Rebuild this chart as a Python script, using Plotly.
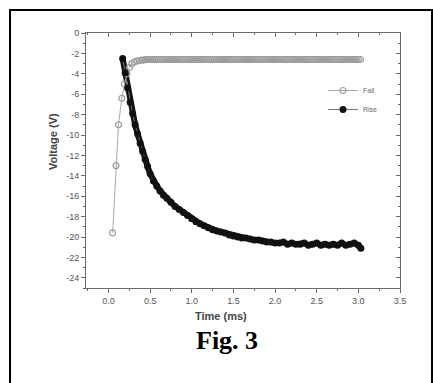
import plotly.graph_objects as go

# ---- data ----
fall_t = [0.05, 0.09, 0.12, 0.16, 0.19, 0.22, 0.25, 0.28, 0.31, 0.34, 0.37,
          0.400, 0.425, 0.450, 0.475, 0.500, 0.525, 0.550, 0.575, 0.600, 0.625, 0.650, 0.675, 0.700, 0.725,
          0.750, 0.775, 0.800, 0.825, 0.850, 0.875, 0.900, 0.925, 0.950, 0.975, 1.000, 1.025, 1.050, 1.075,
          1.100, 1.125, 1.150, 1.175, 1.200, 1.225, 1.250, 1.275, 1.300, 1.325, 1.350, 1.375, 1.400, 1.425,
          1.450, 1.475, 1.500, 1.525, 1.550, 1.575, 1.600, 1.625, 1.650, 1.675, 1.700, 1.725, 1.750, 1.775,
          1.800, 1.825, 1.850, 1.875, 1.900, 1.925, 1.950, 1.975, 2.000, 2.025, 2.050, 2.075, 2.100, 2.125,
          2.150, 2.175, 2.200, 2.225, 2.250, 2.275, 2.300, 2.325, 2.350, 2.375, 2.400, 2.425, 2.450, 2.475,
          2.500, 2.525, 2.550, 2.575, 2.600, 2.625, 2.650, 2.675, 2.700, 2.725, 2.750, 2.775, 2.800, 2.825,
          2.850, 2.875, 2.900, 2.925, 2.950, 2.975, 3.000, 3.025]
fall_v = [-19.6, -13.0, -9.0, -6.4, -5.0, -4.0, -3.4, -3.0, -2.85, -2.75, -2.7,
          -2.65, -2.65, -2.6, -2.6, -2.6, -2.6, -2.6, -2.6, -2.6, -2.6, -2.6, -2.6, -2.6, -2.6,
          -2.6, -2.6, -2.6, -2.6, -2.6, -2.6, -2.6, -2.6, -2.6, -2.6, -2.6, -2.6, -2.6, -2.6,
          -2.6, -2.6, -2.6, -2.6, -2.6, -2.6, -2.6, -2.6, -2.6, -2.6, -2.6, -2.6, -2.6, -2.6,
          -2.6, -2.6, -2.6, -2.6, -2.6, -2.6, -2.6, -2.6, -2.6, -2.6, -2.6, -2.6, -2.6, -2.6,
          -2.6, -2.6, -2.6, -2.6, -2.6, -2.6, -2.6, -2.6, -2.6, -2.6, -2.6, -2.6, -2.6, -2.6,
          -2.6, -2.6, -2.6, -2.6, -2.6, -2.6, -2.6, -2.6, -2.6, -2.6, -2.6, -2.6, -2.6, -2.6,
          -2.6, -2.6, -2.6, -2.6, -2.6, -2.6, -2.6, -2.6, -2.6, -2.6, -2.6, -2.6, -2.6, -2.6,
          -2.6, -2.6, -2.6, -2.6, -2.6, -2.6, -2.6, -2.6]

rise_t = [0.17, 0.20, 0.23, 0.26, 0.29, 0.32, 0.35, 0.38, 0.41, 0.44, 0.47, 0.50, 0.54, 0.58, 0.62,
          0.66, 0.70, 0.75, 0.80, 0.85, 0.90, 0.95, 1.00, 1.05, 1.10, 1.15, 1.20, 1.25, 1.30, 1.35,
          1.40, 1.45, 1.50, 1.55, 1.60, 1.65, 1.70, 1.75, 1.80, 1.85, 1.90, 1.95, 2.00, 2.05, 2.10,
          2.15, 2.20, 2.25, 2.30, 2.35, 2.40, 2.45, 2.50, 2.55, 2.60, 2.65, 2.70, 2.75, 2.80, 2.85,
          2.90, 2.95, 3.00, 3.03]
rise_v = [-2.5, -3.9, -5.4, -6.8, -7.9, -9.0, -9.9, -10.8, -11.6, -12.4, -13.1, -13.8, -14.5, -15.0, -15.5,
          -15.9, -16.2, -16.6, -17.0, -17.3, -17.6, -17.9, -18.2, -18.5, -18.7, -18.9, -19.1, -19.3, -19.4, -19.5,
          -19.6, -19.8, -19.9, -20.0, -20.1, -20.1, -20.2, -20.3, -20.3, -20.4, -20.5, -20.5, -20.6, -20.6, -20.5,
          -20.7, -20.6, -20.7, -20.7, -20.6, -20.8, -20.7, -20.6, -20.8, -20.7, -20.8, -20.7, -20.8, -20.6, -20.8,
          -20.7, -20.6, -20.8, -21.1]

x_ticks = [0.0, 0.5, 1.0, 1.5, 2.0, 2.5, 3.0, 3.5]
x_tick_text = ["0.0", "0.5", "1.0", "1.5", "2.0", "2.5", "3.0", "3.5"]
y_ticks = [0, -2, -4, -6, -8, -10, -12, -14, -16, -18, -20, -22, -24]
y_tick_text = ["0", "-2", "-4", "-6", "-8", "-10", "-12", "-14", "-16", "-18", "-20", "-22", "-24"]

W, H = 433, 383
L, R, T, B = 86, 33, 33, 95
pw, ph = W - L - R, H - T - B

def px(x):
    return (x - L) / pw

def py(y):
    return (H - B - y) / ph

fig = go.Figure()
fig.add_trace(go.Scatter(
    x=rise_t, y=rise_v, mode="lines", showlegend=False, hoverinfo="skip",
    line=dict(color="#111111", width=6),
))
fig.add_trace(go.Scatter(
    x=fall_t, y=fall_v, name="Fall", mode="lines+markers",
    line=dict(color="#a8a8a8", width=1),
    marker=dict(symbol="circle-open", size=6, color="#9a9a9a", line=dict(width=1.2)),
))
fig.add_trace(go.Scatter(
    x=rise_t, y=rise_v, name="Rise", mode="lines+markers",
    line=dict(color="#777777", width=1),
    marker=dict(symbol="circle", size=7, color="#111111"),
))

axis_col = "#6a6a6a"
tick_font = dict(family="Arial, Liberation Sans", size=9, color="#555555")
fig.update_layout(
    width=W, height=H,
    margin=dict(l=L, r=R, t=T, b=B),
    paper_bgcolor="white", plot_bgcolor="white",
    showlegend=True,
    legend=dict(x=px(323), y=py(76), xanchor="left", yanchor="top",
                font=dict(family="Arial, Liberation Sans", size=7, color="#666666"),
                bgcolor="rgba(0,0,0,0)", itemwidth=30, tracegroupgap=0),
    xaxis=dict(range=[-0.27, 3.5], tickvals=x_ticks, ticktext=x_tick_text,
               showgrid=False, zeroline=False, showline=True, linecolor=axis_col, linewidth=1,
               ticks="outside", ticklen=4, tickcolor=axis_col, tickfont=tick_font,
               minor=dict(dtick=0.25, ticks="outside", ticklen=2, tickcolor=axis_col),
               mirror=True),
    yaxis=dict(range=[-25, 0], tickvals=y_ticks, ticktext=y_tick_text,
               showgrid=False, zeroline=False, showline=True, linecolor=axis_col, linewidth=1,
               ticks="outside", ticklen=4, tickcolor=axis_col, tickfont=tick_font,
               minor=dict(dtick=1, ticks="outside", ticklen=2, tickcolor=axis_col),
               mirror=True),
    xaxis2=dict(overlaying="x", side="top", matches="x", range=[-0.27, 3.5], tickvals=x_ticks,
                showticklabels=False, showgrid=False, zeroline=False, ticks="inside",
                ticklen=4, tickcolor=axis_col,
                minor=dict(dtick=0.25, ticks="inside", ticklen=2, tickcolor=axis_col)),
    yaxis2=dict(overlaying="y", side="right", range=[-25, 0], tickvals=y_ticks,
                showticklabels=False, showgrid=False, zeroline=False, ticks="inside",
                ticklen=4, tickcolor=axis_col,
                minor=dict(dtick=1, ticks="inside", ticklen=2, tickcolor=axis_col)),
)
fig.add_trace(go.Scatter(x=[None], y=[None], xaxis="x2", yaxis="y2", showlegend=False, hoverinfo="skip"))

fig.add_annotation(x=px(221), y=py(324), xref="paper", yref="paper", text="<b>Time (ms)</b>",
                   showarrow=False, font=dict(family="Arial, Liberation Sans", size=11, color="#444444"))
fig.add_annotation(x=px(45), y=py(142), xref="paper", yref="paper", text="<b>Voltage (V)</b>",
                   textangle=-90, showarrow=False,
                   font=dict(family="Arial, Liberation Sans", size=11, color="#444444"))
fig.add_annotation(x=px(227), y=py(357), xref="paper", yref="paper", text="<b>Fig. 3</b>",
                   showarrow=False, font=dict(family="Liberation Serif, Times New Roman, serif", size=26, color="black"))

fig.add_shape(type="rect", xref="paper", yref="paper",
              x0=px(10), x1=px(432), y0=py(400), y1=py(10),
              line=dict(color="black", width=2), fillcolor="rgba(0,0,0,0)", layer="above")

fig.write_html("out.html")
